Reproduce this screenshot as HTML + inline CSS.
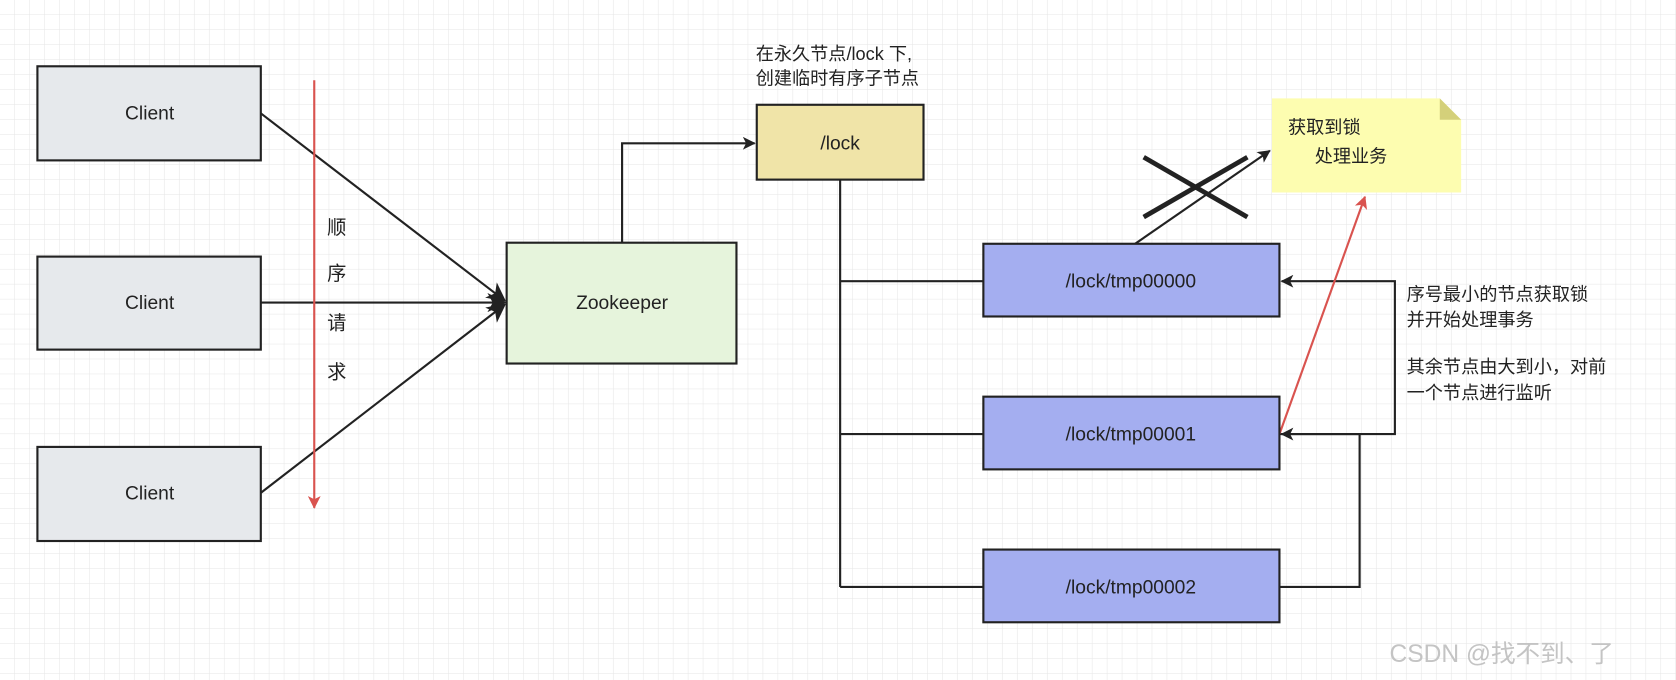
<!DOCTYPE html>
<html><head><meta charset="utf-8"><style>
html,body{margin:0;padding:0;background:#fff;}
svg{display:block;}
text{font-family:"Liberation Sans","Noto Sans CJK SC",sans-serif;fill:#222;}
</style></head><body>
<svg width="1676" height="680" viewBox="0 0 1568 636" preserveAspectRatio="none" xmlns="http://www.w3.org/2000/svg">
<defs>
<pattern id="g" width="14" height="14" patternUnits="userSpaceOnUse"><path d="M14 0V14H0" fill="none" stroke="#e6e6e6" stroke-width="1"/></pattern>
<marker id="ab" markerWidth="12" markerHeight="12" refX="11" refY="6" orient="auto" markerUnits="userSpaceOnUse"><path d="M0,0 L12,6 L0,12 L3,6z" fill="#222"/></marker>
<marker id="ar" markerWidth="12" markerHeight="12" refX="11" refY="6" orient="auto" markerUnits="userSpaceOnUse"><path d="M0,0 L12,6 L0,12 L3,6z" fill="#d9534f"/></marker>
<marker id="ab2" markerWidth="18" markerHeight="18" refX="16" refY="9" orient="auto" markerUnits="userSpaceOnUse"><path d="M0,0 L18,9 L0,18 L5,9z" fill="#222"/></marker>
</defs>
<rect width="1568" height="636" fill="url(#g)"/>
<g stroke="#222" stroke-width="2" fill="none">
<line x1="244" y1="106" x2="472" y2="281" marker-end="url(#ab2)"/>
<line x1="244" y1="283" x2="472" y2="283" marker-end="url(#ab2)"/>
<line x1="244" y1="461" x2="472" y2="285" marker-end="url(#ab2)"/>
<polyline points="582,227 582,134 706,134" marker-end="url(#ab)"/>
<line x1="786" y1="168" x2="786" y2="549"/>
<line x1="786" y1="263" x2="920" y2="263"/>
<line x1="786" y1="406" x2="920" y2="406"/>
<line x1="786" y1="549" x2="920" y2="549"/>
<polyline points="1197,406 1305,406 1305,263 1199,263" marker-end="url(#ab)"/>
<polyline points="1197,549 1272,549 1272,406 1199,406" marker-end="url(#ab)"/>
<line x1="1062" y1="228" x2="1188" y2="141" marker-end="url(#ab)"/>
</g>
<g stroke="#222" stroke-width="4.5">
<line x1="1070" y1="147" x2="1167" y2="203"/>
<line x1="1070" y1="203" x2="1167" y2="147"/>
</g>
<line x1="294" y1="75" x2="294" y2="475" stroke="#d9534f" stroke-width="2" marker-end="url(#ar)"/>
<line x1="1197" y1="406" x2="1277" y2="184" stroke="#d9534f" stroke-width="2" marker-end="url(#ar)"/>
<g stroke="#222" stroke-width="2">
<rect x="35" y="62" width="209" height="88" fill="#e6e9ec"/>
<rect x="35" y="240" width="209" height="87" fill="#e6e9ec"/>
<rect x="35" y="418" width="209" height="88" fill="#e6e9ec"/>
<rect x="474" y="227" width="215" height="113" fill="#e6f4dc"/>
<rect x="708" y="98" width="156" height="70" fill="#f0e4a8"/>
<rect x="920" y="228" width="277" height="68" fill="#a4aef0"/>
<rect x="920" y="371" width="277" height="68" fill="#a4aef0"/>
<rect x="920" y="514" width="277" height="68" fill="#a4aef0"/>
</g>
<path d="M1190,92 H1347 L1367,112 V180 H1190z" fill="#fdfdb0"/>
<path d="M1347,92 L1367,112 H1347z" fill="#d4d07a"/>
<g font-size="18" text-anchor="middle">
<text x="140" y="112">Client</text>
<text x="140" y="289">Client</text>
<text x="140" y="467">Client</text>
<text x="582" y="289">Zookeeper</text>
<text x="786" y="140">/lock</text>
<text x="1058" y="269">/lock/tmp00000</text>
<text x="1058" y="412">/lock/tmp00001</text>
<text x="1058" y="555">/lock/tmp00002</text>
<text x="315" y="219">顺</text>
<text x="315" y="262">序</text>
<text x="315" y="308">请</text>
<text x="315" y="354">求</text>
</g>
<g font-size="17">
<text x="707" y="56">在永久节点/lock 下,</text>
<text x="707" y="79">创建临时有序子节点</text>
<text x="1205" y="125">获取到锁</text>
<text x="1230" y="152">处理业务</text>
<text x="1316" y="281">序号最小的节点获取锁</text>
<text x="1316" y="305">并开始处理事务</text>
<text x="1316" y="349">其余节点由大到小，对前</text>
<text x="1316" y="373">一个节点进行监听</text>
</g>
<text x="1300" y="619" font-size="23" style="fill:#c4c4c4">CSDN @找不到、了</text>
</svg>
</body></html>
